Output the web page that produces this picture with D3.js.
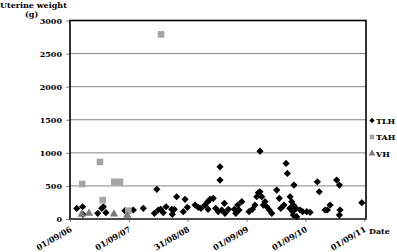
<!DOCTYPE html>
<html><head><meta charset="utf-8">
<script src="https://cdn.jsdelivr.net/npm/d3@7"></script>
<style>body{margin:0;background:#fff}svg{display:block}</style>
</head><body>
<script>
const tlhDates = ["2006-10-13","2006-11-18","2006-11-20","2007-02-20","2007-03-17","2007-03-27","2007-04-12","2007-08-08","2007-09-29",
"2007-11-30","2008-02-22","2008-02-07","2008-03-02","2008-03-17","2008-04-02","2008-04-19","2008-05-24","2008-05-28","2008-06-09","2008-06-24","2008-08-04","2008-08-15","2008-08-29","2008-10-16","2008-11-05",
"2008-11-22","2008-12-17","2009-01-03","2009-01-17","2009-02-06","2009-01-05","2009-02-21","2009-03-09","2009-03-20","2009-03-20","2009-03-31","2009-04-16","2009-04-20","2009-05-11","2009-06-17","2009-06-26","2009-07-08","2009-07-16","2009-08-02","2009-09-16","2009-10-07","2009-10-23","2009-11-03","2009-11-13","2009-12-14",
"2009-11-23","2010-05-04","2010-05-12","2010-06-22","2010-11-14","2010-11-26","2009-11-23","2009-12-04","2009-12-24","2010-01-04","2010-01-20","2010-02-04","2010-03-07","2010-03-23","2010-04-01","2010-04-21","2010-05-29","2010-06-08","2010-06-18","2010-05-27","2010-06-14","2010-07-05","2010-06-18","2010-07-09","2010-07-30","2010-08-15","2010-09-09","2010-09-30","2011-01-01",
"2011-03-14","2011-03-31","2011-02-01","2011-01-15","2011-04-04","2011-03-31","2011-08-17"];
const tlhValues = [160,185,70,86,161,185,95,125,136,
161,448,86,136,146,95,185,146,71,146,336,110,297,176,211,176,
161,211,261,297,312,146,161,110,789,588,136,237,86,146,146,86,211,136,261,110,146,211,336,397,211,
1025,840,689,513,562,412,412,336,261,185,136,86,437,312,161,211,336,261,211,161,110,161,60,35,136,110,110,101,136,
588,513,211,136,136,60,246];
const tahDates = ["2006-11-16","2007-03-06","2007-03-23","2007-06-03","2007-07-08","2007-08-29","2008-03-19"];
const tahValues = [528,862,285,562,562,125,2790];
const vhDates = ["2006-11-12","2006-12-28","2007-06-01","2007-08-22"];
const vhValues = [55,70,60,40];
const yTicks = [0,500,1000,1500,2000,2500,3000];
const xTickDates = ["2006-09-01","2007-09-01","2008-08-31","2009-09-01","2010-09-01","2011-09-01"];
const seriesNames = ["TLH","TAH","VH"];

const W=397,H=252;
const parse=d3.timeParse("%Y-%m-%d");
const fmt=d3.timeFormat("%d/%m/%y");
const svg=d3.select("body").append("svg").attr("width",W).attr("height",H);
const L=70,R=366,T=20.5,B=219;
const x=d3.scaleTime().domain([parse("2006-09-01"),parse("2011-09-12")]).range([L,R]);
const y=d3.scaleLinear().domain([0,3000]).range([B,T]);
const font="'DejaVu Serif', serif";

// gridlines
svg.append("g").selectAll("line").data(yTicks.filter(v=>v>0&&v<3000)).join("line")
 .attr("x1",L).attr("x2",R).attr("y1",d=>y(d)).attr("y2",d=>y(d))
 .attr("stroke","#868686").attr("stroke-width",1);

// y axis
const ya=svg.append("g").attr("transform",`translate(${L},0)`)
 .call(d3.axisLeft(y).tickValues(yTicks).tickFormat(d3.format("d")).tickSize(4).tickSizeOuter(0).tickPadding(4));
ya.select(".domain").remove();
ya.selectAll("line").attr("stroke","#868686");
ya.selectAll("text").attr("font-family",font).attr("font-weight","bold").attr("font-size",8).attr("fill","#000");

// x axis
const xa=svg.append("g").attr("transform",`translate(0,${B})`)
 .call(d3.axisBottom(x).tickValues(xTickDates.map(parse)).tickFormat(fmt).tickSize(3).tickSizeOuter(0));
xa.select(".domain").remove();
xa.selectAll("line").attr("stroke","#868686");
xa.selectAll("text").attr("font-family",font).attr("font-weight","bold").attr("font-size",8).attr("fill","#000")
 .attr("text-anchor","end").attr("dy",null).attr("y",0)
 .attr("transform","translate(2,12) rotate(-30)");

// frame
svg.append("rect").attr("x",L).attr("y",T).attr("width",R-L).attr("height",B-T)
 .attr("fill","none").attr("stroke","#000").attr("stroke-width",1.6);
svg.append("line").attr("x1",L).attr("x2",R).attr("y1",B).attr("y2",B).attr("stroke","#555").attr("stroke-width",1.6);

// marks
const diamond=d3.symbol().type(d3.symbolSquare).size(26);
const square=d3.symbol().type(d3.symbolSquare).size(44);
const tri=d3.symbol().type(d3.symbolTriangle).size(30);
svg.append("g").selectAll("path").data(tlhDates.map((d,i)=>[parse(d),tlhValues[i]])).join("path")
 .attr("d",diamond).attr("fill","#000")
 .attr("transform",d=>`translate(${x(d[0])},${y(d[1])}) rotate(45)`);
svg.append("g").selectAll("path").data(tahDates.map((d,i)=>[parse(d),tahValues[i]])).join("path")
 .attr("d",square).attr("fill","#a5a5a5")
 .attr("transform",d=>`translate(${x(d[0])},${y(d[1])})`);
svg.append("g").selectAll("path").data(vhDates.map((d,i)=>[parse(d),vhValues[i]])).join("path")
 .attr("d",tri).attr("fill","#7a7a7a")
 .attr("transform",d=>`translate(${x(d[0])},${y(d[1])-1})`);

// legend
const lg=svg.append("g");
const legY=[120.5,137,153.5];
const legSym=[d3.symbol().type(d3.symbolSquare).size(14),d3.symbol().type(d3.symbolSquare).size(22),d3.symbol().type(d3.symbolTriangle).size(20)];
const legCol=["#000","#a5a5a5","#7a7a7a"];
seriesNames.forEach((n,i)=>{
 lg.append("path").attr("d",legSym[i]).attr("fill",legCol[i])
  .attr("transform",`translate(372,${legY[i]})${i===0?" rotate(45)":""}`);
 lg.append("text").attr("x",376).attr("y",legY[i]+3).text(n)
  .attr("font-family",font).attr("font-weight","bold").attr("font-size",8);
});

// titles
svg.append("text").attr("x",0).attr("y",8).text("Uterine weight")
 .attr("font-family",font).attr("font-weight","bold").attr("font-size",8);
svg.append("text").attr("x",25).attr("y",17).text("(g)")
 .attr("font-family",font).attr("font-weight","bold").attr("font-size",8);
svg.append("text").attr("x",369).attr("y",234).text("Date")
 .attr("font-family",font).attr("font-weight","bold").attr("font-size",8);
</script>
</body></html>
